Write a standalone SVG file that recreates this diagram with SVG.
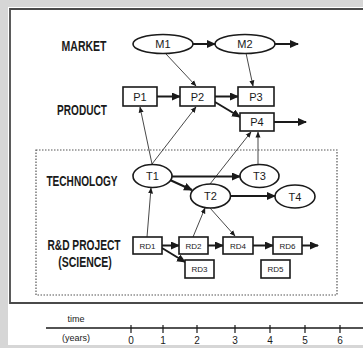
<svg xmlns="http://www.w3.org/2000/svg" width="363" height="348" viewBox="0 0 363 348">
  <style>
    .lane { font-family: "Liberation Sans", Arial, sans-serif; font-weight: bold; font-size: 14px; fill: #1a1a1a; text-anchor: middle; }
    .lbl { font-family: "Liberation Sans", Arial, sans-serif; font-size: 11px; fill: #1a1a1a; text-anchor: middle; }
    .sm { font-family: "Liberation Sans", Arial, sans-serif; font-size: 8px; fill: #1a1a1a; text-anchor: middle; }
    .ax { font-family: "Liberation Sans", Arial, sans-serif; font-size: 9px; fill: #1a1a1a; text-anchor: middle; }
    .num { font-family: "Liberation Sans", Arial, sans-serif; font-size: 10px; fill: #1a1a1a; text-anchor: middle; }
    .shape { fill: #ffffff; stroke: #1a1a1a; stroke-width: 1.6; }
    .thick { fill: none; stroke: #1a1a1a; stroke-width: 2; marker-end: url(#headBig); }
    .thin { fill: none; stroke: #333333; stroke-width: 0.9; marker-end: url(#headSmall); }
  </style>
  <defs>
    <marker id="headBig" markerUnits="userSpaceOnUse" markerWidth="9" markerHeight="8" refX="8" refY="4" orient="auto">
      <path d="M0,0 L9,4 L0,8 Z" fill="#1a1a1a"/>
    </marker>
    <marker id="headSmall" markerUnits="userSpaceOnUse" markerWidth="6" markerHeight="6" refX="5.5" refY="3" orient="auto">
      <path d="M0,0.5 L6,3 L0,5.5 Z" fill="#1a1a1a"/>
    </marker>
  </defs>

  <!-- page and frame -->
  <rect x="0" y="0" width="363" height="348" fill="#d6d6d6"/>
  <rect x="8" y="7" width="355" height="338" fill="#ffffff"/>
  <path d="M363,9 H10 V303 H363" fill="none" stroke="#4a4a4a" stroke-width="1.8"/>
  <rect x="36" y="150" width="301" height="145" fill="none" stroke="#555555" stroke-width="1.2" stroke-dasharray="1.5,1.5"/>

  <!-- lane titles (bold, horizontally condensed) -->
  <text class="lane" transform="translate(84,51) scale(0.75,1)">MARKET</text>
  <text class="lane" transform="translate(82,115) scale(0.72,1)">PRODUCT</text>
  <text class="lane" transform="translate(82,186) scale(0.72,1)">TECHNOLOGY</text>
  <text class="lane" transform="translate(84,250) scale(0.73,1)">R&amp;D PROJECT</text>
  <text class="lane" transform="translate(85,267) scale(0.75,1)">(SCIENCE)</text>

  <!-- connectors -->
  <g id="connectors">
    <path class="thick" d="M193,44 H215"/>
    <path class="thick" d="M275,44 H298"/>
    <path class="thin" d="M166,54 L196,86"/>
    <path class="thin" d="M246,53 L253,86"/>
    <path class="thick" d="M157,96.5 H180"/>
    <path class="thick" d="M215,96.5 H238"/>
    <path class="thick" d="M215,102 L240,117"/>
    <path class="thick" d="M274,122 H306"/>
    <path class="thin" d="M152,164 L140,107"/>
    <path class="thin" d="M152,164 L196,107"/>
    <path class="thin" d="M210,184 L251,132"/>
    <path class="thin" d="M258,165 V132"/>
    <path class="thick" d="M172,176.5 H240"/>
    <path class="thick" d="M170,180 L192,190"/>
    <path class="thick" d="M230,196 H275"/>
    <path class="thin" d="M147,237 L151,188"/>
    <path class="thin" d="M193,237 L205,208"/>
    <path class="thin" d="M210,208 L235,236"/>
    <path class="thick" d="M162,245.5 H179"/>
    <path class="thick" d="M208,245.5 H223"/>
    <path class="thick" d="M253,245.5 H273"/>
    <path class="thick" d="M302,245.5 H318"/>
    <path class="thick" d="M162,248 L185,262"/>
  </g>

  <!-- market -->
  <g id="M1"><ellipse class="shape" cx="163" cy="44" rx="30" ry="9.5"/><text class="lbl" x="163" y="48">M1</text></g>
  <g id="M2"><ellipse class="shape" cx="245" cy="44" rx="30" ry="9.5"/><text class="lbl" x="245" y="48">M2</text></g>

  <!-- products -->
  <g id="P1"><rect class="shape" x="123" y="87" width="34" height="19"/><text class="lbl" x="140" y="100.5">P1</text></g>
  <g id="P2"><rect class="shape" x="180" y="87" width="35" height="19"/><text class="lbl" x="197.5" y="100.5">P2</text></g>
  <g id="P3"><rect class="shape" x="238" y="87" width="36" height="19"/><text class="lbl" x="256" y="100.5">P3</text></g>
  <g id="P4"><rect class="shape" x="240" y="113" width="34" height="18"/><text class="lbl" x="257" y="126">P4</text></g>

  <!-- technologies -->
  <g id="T1"><ellipse class="shape" cx="152.5" cy="176" rx="19.5" ry="11.5"/><text class="lbl" x="152.5" y="180">T1</text></g>
  <g id="T2"><ellipse class="shape" cx="210.5" cy="196" rx="20" ry="12"/><text class="lbl" x="210.5" y="200">T2</text></g>
  <g id="T3"><ellipse class="shape" cx="259.5" cy="176" rx="19.5" ry="11.5"/><text class="lbl" x="259.5" y="180">T3</text></g>
  <g id="T4"><ellipse class="shape" cx="295" cy="196.5" rx="20" ry="11.5"/><text class="lbl" x="295" y="200.5">T4</text></g>

  <!-- R&D projects -->
  <g id="RD1"><rect class="shape" x="133" y="237" width="29" height="17"/><text class="sm" x="147.5" y="248.5">RD1</text></g>
  <g id="RD2"><rect class="shape" x="179" y="237" width="29" height="17"/><text class="sm" x="193.5" y="248.5">RD2</text></g>
  <g id="RD3"><rect class="shape" x="185" y="260" width="29" height="18"/><text class="sm" x="199.5" y="272">RD3</text></g>
  <g id="RD4"><rect class="shape" x="223" y="237" width="30" height="17"/><text class="sm" x="238" y="248.5">RD4</text></g>
  <g id="RD5"><rect class="shape" x="261" y="260" width="29" height="18"/><text class="sm" x="275.5" y="272">RD5</text></g>
  <g id="RD6"><rect class="shape" x="273" y="237" width="29" height="17"/><text class="sm" x="287.5" y="248.5">RD6</text></g>

  <!-- time axis -->
  <g id="axis">
    <text class="ax" x="76" y="322">time</text>
    <path d="M46,328 H363" stroke="#1a1a1a" stroke-width="1.5"/>
    <text class="ax" x="76" y="341">(years)</text>
    <g stroke="#1a1a1a" stroke-width="1.2">
      <path d="M131,325 V333 M163,325 V333 M197,325 V333 M235,325 V333 M270,325 V333 M305,325 V333 M340,325 V333"/>
    </g>
    <text class="num" x="131" y="344">0</text>
    <text class="num" x="163" y="344">1</text>
    <text class="num" x="197" y="344">2</text>
    <text class="num" x="235" y="344">3</text>
    <text class="num" x="270" y="344">4</text>
    <text class="num" x="305" y="344">5</text>
    <text class="num" x="340" y="344">6</text>
  </g>
</svg>
